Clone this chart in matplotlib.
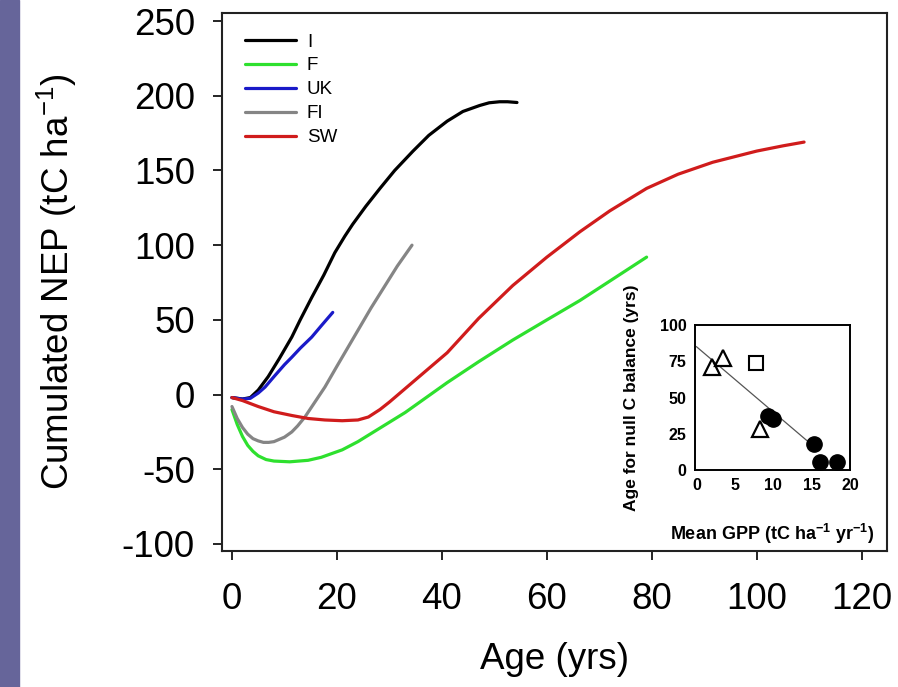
import matplotlib
matplotlib.use("Agg")
import matplotlib.pyplot as plt
from matplotlib.patches import Rectangle

plt.rcParams['font.family'] = ['Liberation Sans', 'DejaVu Sans']
plt.rcParams['mathtext.default'] = 'regular'
plt.rcParams['axes.unicode_minus'] = False

# Cumulated NEP by site
ages_I = [0, 2, 3.5, 5, 6.9, 9, 11.4, 13, 15.2, 17.5, 19.6, 21.5, 23, 25.5, 28.2,
          31, 34.5, 37.5, 41, 44, 47.2, 49, 51, 52.5, 54.3]
nep_I = [-2, -3, -2, 3, 12, 24, 38.5, 50, 65, 80, 95, 106, 114, 126, 138,
         150, 163, 173.5, 183, 189.5, 193.5, 195.3, 196, 196, 195.5]

ages_F = [0, 1, 2, 3, 4, 5, 6.5, 8, 11, 14.5, 17, 21, 24, 27, 30, 33, 37, 41,
          47, 53.5, 60, 66.3, 72, 79]
nep_F = [-10, -20, -28, -34, -38, -41, -43.5, -44.5, -45, -44, -42, -37, -31.5,
         -25, -18.5, -12, -2, 8, 22, 36.5, 50, 63, 76, 92]

ages_UK = [0, 2, 3.5, 5, 6.3, 8, 10, 11.4, 13, 15.2, 17, 19.2]
nep_UK = [-2, -3, -2.5, 1, 5, 12, 20, 25, 31, 38.5, 46, 55]

ages_FI = [0, 1, 2, 3, 4, 5, 6, 7, 8, 9, 10, 11.4, 12.5, 13.9, 15.8, 17.7, 20,
           22, 24, 26.5, 29, 31.5, 34.3]
nep_FI = [-8, -16, -22, -26.5, -29.5, -31, -32, -32, -31.5, -30, -28.5, -25,
          -21, -15, -5, 5, 19, 31, 43, 58, 72, 86, 100]

ages_SW = [0, 2, 5, 8, 11.4, 14.5, 17.7, 21, 24, 26, 28.2, 30, 32, 36, 41, 47,
           53.5, 60, 66.3, 72, 79, 85, 91.6, 100, 105, 109]
nep_SW = [-2, -4, -8, -11.5, -14, -16, -17, -17.5, -17, -15, -10, -5, 1, 13,
          28, 51, 73, 92, 109, 123, 138, 147.5, 155.5, 163, 166.5, 169]

series = [
    ("I", ages_I, nep_I, "#000000"),
    ("F", ages_F, nep_F, "#2ee02e"),
    ("UK", ages_UK, nep_UK, "#1a1ac8"),
    ("FI", ages_FI, nep_FI, "#858585"),
    ("SW", ages_SW, nep_SW, "#d01c1c"),
]

x_ticks = [0, 20, 40, 60, 80, 100, 120]
y_ticks = [-100, -50, 0, 50, 100, 150, 200, 250]

# inset: age for null C balance vs mean GPP
gpp_tri = [2.0, 3.5, 8.3]
age_tri = [71, 77, 28]
gpp_sq = [7.8]
age_sq = [73.5]
gpp_circ = [9.3, 10.0, 15.3, 16.1, 18.3]
age_circ = [37, 35, 18, 5.7, 5.7]
reg_x = [0, 14.8]
reg_y = [85, 18.4]

fig = plt.figure(figsize=(8.98, 6.87), dpi=100)
fig.patches.append(Rectangle((0, 0), 19 / 898, 1, transform=fig.transFigure,
                             color="#66659a", zorder=0))

ax = fig.add_axes([222 / 898, 1 - 551 / 687, 665 / 898, 538 / 687])
for name, xs, ys, col in series:
    ax.plot(xs, ys, color=col, lw=2.3, label=name,
            solid_joinstyle='round', solid_capstyle='round')

ax.set_xlim(-1.9, 124.8)
ax.set_ylim(-104.7, 255.4)
ax.set_xticks(x_ticks)
ax.set_yticks(y_ticks)
ax.tick_params(axis='both', direction='out', length=6.5, width=1.2, labelsize=26.5)
ax.tick_params(axis='x', pad=16)
ax.tick_params(axis='y', pad=13)
for sp in ax.spines.values():
    sp.set_linewidth(1.5)
    sp.set_color("#222222")

ax.set_xlabel("Age (yrs)", fontsize=26.5)
ax.set_ylabel("Cumulated NEP (tC ha$^{-1}$)", fontsize=26.5)
ax.xaxis.set_label_coords(0.5, -0.17)
ax.yaxis.set_label_coords(-0.215, 0.5)

ax.legend(loc='upper left', bbox_to_anchor=(0.0346, 0.962), frameon=False,
          fontsize=13.5, handlelength=2.7, handletextpad=0.6, labelspacing=0.36,
          borderpad=0, borderaxespad=0)

ins = fig.add_axes([695 / 898, 1 - 470 / 687, 155 / 898, 145 / 687])
ins.plot(reg_x, reg_y, color="#555555", lw=0.9, zorder=1)
ins.plot(gpp_tri, age_tri, linestyle='none', marker='^', ms=11, mfc='white',
         mec='black', mew=1.6, clip_on=False, zorder=3)
ins.plot(gpp_sq, age_sq, linestyle='none', marker='s', ms=9.5, mfc='white',
         mec='black', mew=1.5, clip_on=False, zorder=3)
ins.plot(gpp_circ, age_circ, linestyle='none', marker='o', ms=11, mfc='black',
         mec='black', clip_on=False, zorder=3)
ins.set_xlim(-0.2, 20)
ins.set_ylim(0, 100)
ins.set_xticks([0, 5, 10, 15, 20])
ins.set_yticks([0, 25, 50, 75, 100])
ins.tick_params(length=0, labelsize=11.5, pad=6)
for lab in ins.get_xticklabels() + ins.get_yticklabels():
    lab.set_fontweight('bold')
for sp in ins.spines.values():
    sp.set_linewidth(1.4)
ins.set_xlabel("Mean GPP (tC ha$^{-1}$ yr$^{-1}$)", fontsize=13, fontweight='bold')
ins.set_ylabel("Age for null C balance (yrs)", fontsize=12.5, fontweight='bold')
ins.xaxis.set_label_coords(0.5, -0.36)
ins.yaxis.set_label_coords(-0.36, 0.5)

fig.savefig("out.png", dpi=100)
